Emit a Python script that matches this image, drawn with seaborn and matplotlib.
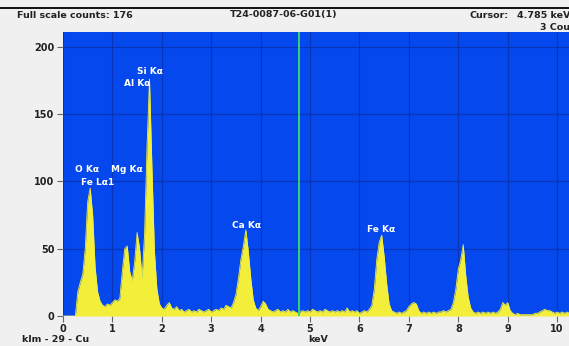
import numpy as np
import pandas as pd
import matplotlib
matplotlib.use("Agg")
import matplotlib.pyplot as plt
from matplotlib.lines import Line2D
import seaborn as sns

# ---- data (0.05 keV channels starting at 0 keV) ----
channel_step_kev = 0.05
counts = [
    0, 0, 0, 0, 0, 0, 18, 25, 31, 50,            # 0.00 - 0.45
    85, 95, 75, 36, 18, 11, 8, 7, 9, 8,          # 0.50 - 0.95
    10, 12, 11, 13, 33, 50, 52, 33, 26, 40,      # 1.00 - 1.45
    62, 50, 28, 60, 125, 176, 110, 48, 20, 9,    # 1.50 - 1.95
    6, 5, 8, 10, 6, 5, 7, 4, 5, 3,               # 2.00 - 2.45
    4, 5, 3, 4, 3, 5, 4, 3, 4, 5,                # 2.50 - 2.95
    3, 4, 5, 4, 6, 5, 8, 7, 6, 10,               # 3.00 - 3.45
    16, 28, 42, 52, 64, 48, 28, 12, 6, 4,        # 3.50 - 3.95
    7, 11, 9, 5, 4, 3, 4, 5, 3, 4,               # 4.00 - 4.45
    3, 5, 3, 4, 3, 2, 3, 4, 3, 4,                # 4.50 - 4.95
    3, 5, 4, 3, 4, 3, 5, 4, 3, 4,                # 5.00 - 5.45
    3, 4, 3, 4, 3, 6, 3, 4, 3, 4,                # 5.50 - 5.95
    2, 3, 4, 3, 5, 8, 20, 42, 55, 60,            # 6.00 - 6.45
    44, 24, 9, 4, 3, 2, 3, 2, 3, 4,              # 6.50 - 6.95
    7, 9, 10, 9, 4, 2, 3, 2, 3, 2,               # 7.00 - 7.45
    3, 2, 3, 3, 4, 3, 4, 5, 10, 20,              # 7.50 - 7.95
    35, 42, 53, 30, 14, 6, 3, 2, 3, 2,           # 8.00 - 8.45
    3, 2, 3, 2, 3, 2, 3, 5, 10, 8,               # 8.50 - 8.95
    10, 4, 2, 1, 2, 1, 1, 1, 1, 1,               # 9.00 - 9.45
    1, 2, 2, 3, 4, 5, 4, 4, 3, 2,                # 9.50 - 9.95
    3, 2, 3, 2, 3, 2, 3,                         # 10.00 - 10.30
]
energy_kev = np.round(np.arange(len(counts)) * channel_step_kev, 2)

peak_labels = ["Si K\u03b1", "Al K\u03b1", "O K\u03b1", "Fe L\u03b11", "Mg K\u03b1", "Ca K\u03b1", "Fe K\u03b1"]
label_energy = [1.76, 1.50, 0.49, 0.71, 1.30, 3.72, 6.44]
label_counts = [182, 173, 108.5, 99.5, 108.5, 67, 64]

x_ticks = [0, 1, 2, 3, 4, 5, 6, 7, 8, 9, 10]
y_ticks = [0, 50, 100, 150, 200]
cursor_kev = 4.785

df = pd.DataFrame({"keV": energy_kev, "Counts": counts})

# ---- figure ----
sns.set_theme(style="white")
plt.rcParams["font.family"] = ["DejaVu Sans"]

W, H = 569, 346
fig = plt.figure(figsize=(W / 100, H / 100), dpi=100, facecolor="#F0F0F0")
ax = fig.add_axes([63 / W, 30 / H, (W - 63) / W, 284 / H])

bg_blue = "#0549EE"
grid_blue = "#0A34B8"
yellow = "#F3EE3A"
ax.set_facecolor(bg_blue)

ax.fill_between(df["keV"], 0, df["Counts"], color=yellow, linewidth=0, zorder=2)
sns.lineplot(data=df, x="keV", y="Counts", ax=ax, color=yellow, linewidth=0.6, zorder=3)

ax.set_xlim(0, 10.24)
ax.set_ylim(0, 211)
ax.set_xticks(x_ticks)
ax.set_yticks(y_ticks)
ax.grid(True, color=grid_blue, linewidth=0.9, zorder=1)
ax.set_axisbelow(True)
for s in ax.spines.values():
    s.set_visible(False)

ax.tick_params(axis="both", which="both", direction="out", length=4, width=0.8,
               color="#666666", labelsize=7, labelcolor="#222222", pad=2,
               bottom=True, left=True)
for lab in ax.get_xticklabels() + ax.get_yticklabels():
    lab.set_fontweight("bold")
ax.set_xlabel("")
ax.set_ylabel("")

# cursor line
ax.axvline(cursor_kev, color="#33D27A", linewidth=1.4, zorder=4)

# peak labels
for t, e, c in zip(peak_labels, label_energy, label_counts):
    ax.text(e, c, t, color="white", fontsize=6.5, fontweight="bold",
            ha="center", va="center", zorder=5)

# header and footer texts
def ftext(x, y, s, **kw):
    fig.text(x / W, 1 - y / H, s, fontsize=6.8, fontweight="bold",
             color="#222222", va="center", **kw)

ftext(17, 15, "Full scale counts: 176")
ftext(230, 15, "T24-0087-06-G01(1)")
ftext(470, 15, "Cursor:")
ftext(517, 15, "4.785 keV")
ftext(540, 27, "3 Counts")
ftext(22, 339, "klm - 29 - Cu")
ftext(318, 339, "keV", ha="center")

fig.add_artist(Line2D([0, 1], [1 - 8 / H, 1 - 8 / H], transform=fig.transFigure,
                      color="black", linewidth=1.3))

fig.savefig("out.png", dpi=100, facecolor=fig.get_facecolor())
